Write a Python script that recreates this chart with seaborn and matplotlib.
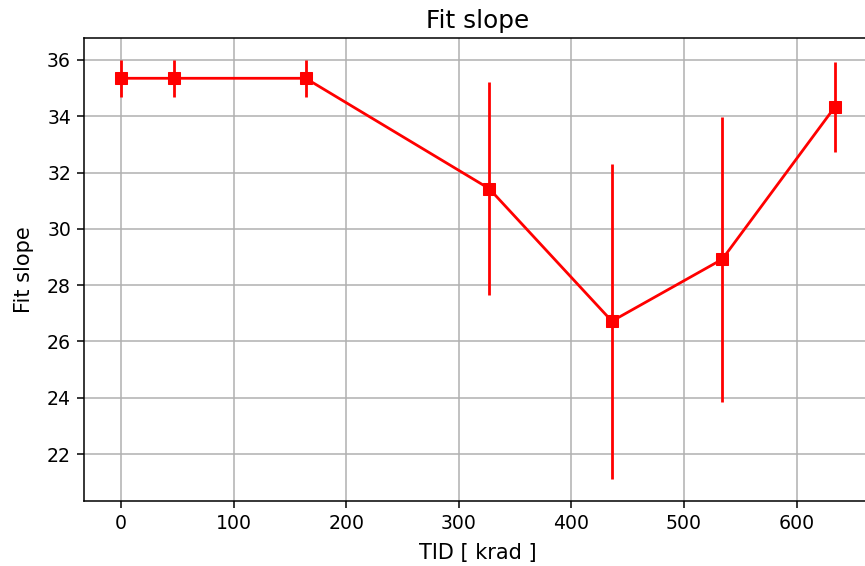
import matplotlib
matplotlib.use("Agg")
import matplotlib.pyplot as plt
import seaborn as sns
import pandas as pd

tid = [0, 47, 164, 327, 436, 534, 634]
slope = [35.35, 35.35, 35.35, 31.43, 26.72, 28.92, 34.33]
slope_err = [0.66, 0.66, 0.66, 3.79, 5.6, 5.07, 1.6]

df = pd.DataFrame({"TID": tid, "slope": slope, "err": slope_err})

plt.rcParams['font.family'] = ['DejaVu Sans']
fig = plt.figure(figsize=(8.65, 5.66), dpi=100)
ax = fig.add_axes([0.0971, 0.1148, 0.911, 0.818])

ax.errorbar(df["TID"], df["slope"], yerr=df["err"], fmt='none', ecolor='red',
            elinewidth=2.0, capsize=0, zorder=3)
sns.lineplot(data=df, x="TID", y="slope", ax=ax, color='red', marker='s',
             markersize=8.5, markeredgecolor='red', linewidth=2.0, zorder=4)

ax.set_xlim(-32.8, 667)
ax.set_ylim(20.33, 36.78)
ax.set_xticks([0, 100, 200, 300, 400, 500, 600])
ax.set_yticks([22, 24, 26, 28, 30, 32, 34, 36])
ax.grid(True, color='#b0b0b0', linewidth=1.1)
ax.set_axisbelow(True)
for s in ax.spines.values():
    s.set_linewidth(1.1)
ax.tick_params(labelsize=13.6, length=4.8, width=1.1, pad=4.5)
ax.set_xlabel("TID [ krad ]", fontsize=15, labelpad=7)
ax.set_ylabel("Fit slope", fontsize=15, labelpad=9)
ax.set_title("Fit slope", fontsize=17.8, pad=7)

fig.savefig("out.png", dpi=100)
